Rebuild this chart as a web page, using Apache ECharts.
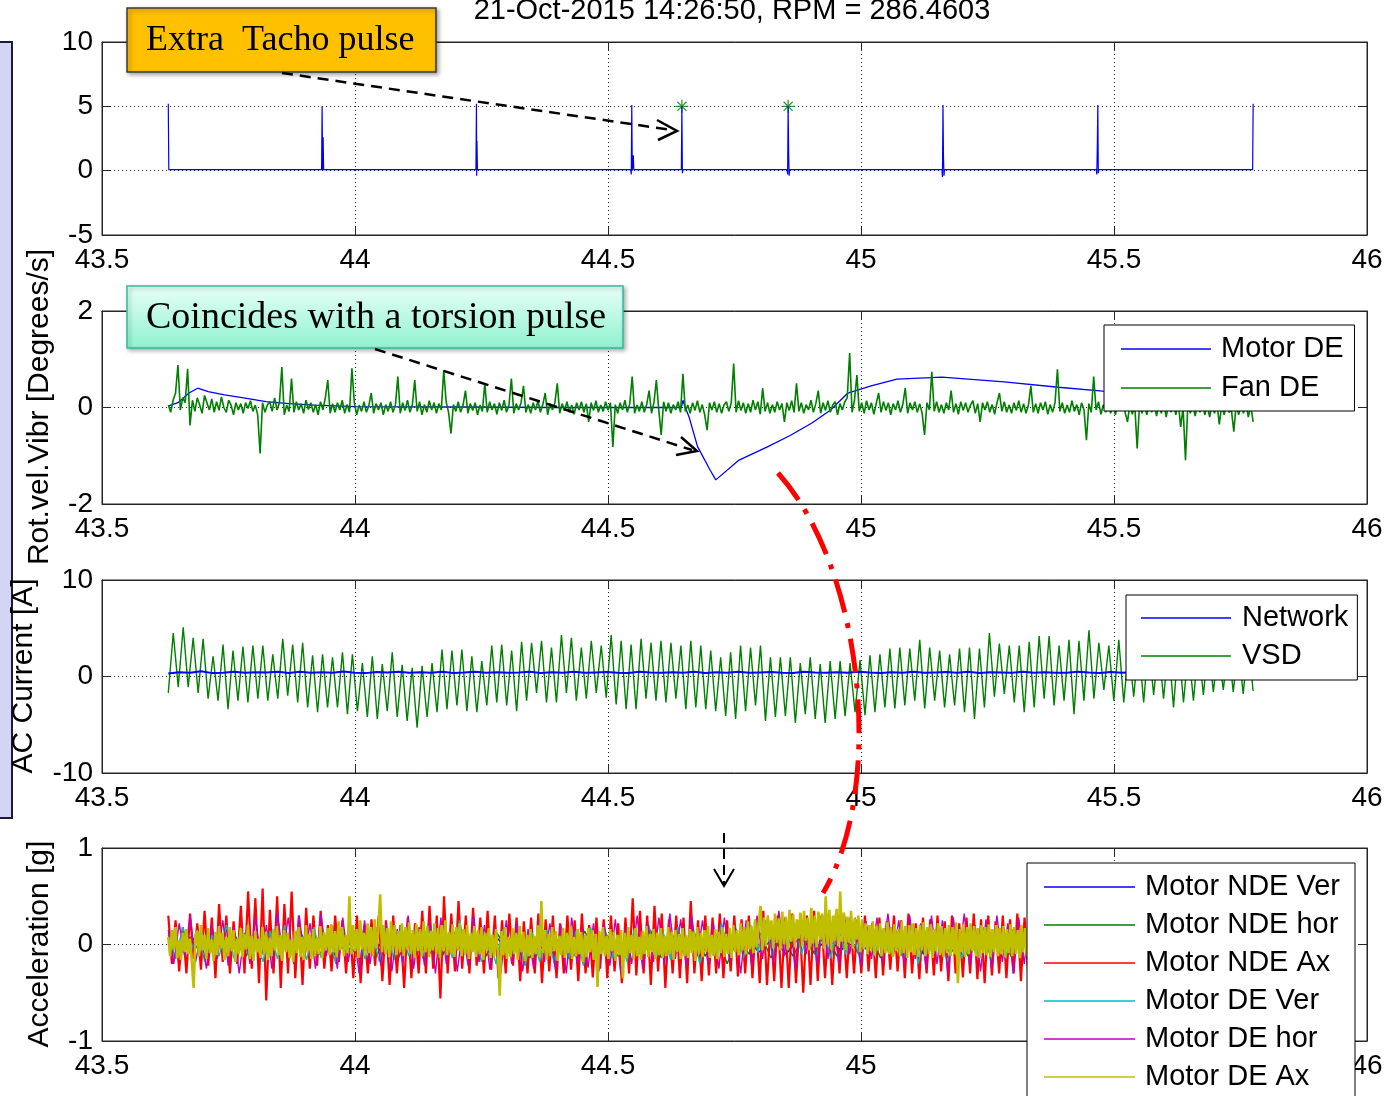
<!DOCTYPE html>
<html><head><meta charset="utf-8">
<script src="https://cdn.jsdelivr.net/npm/echarts@6/dist/echarts.min.js"></script>
<style>html,body{margin:0;padding:0;background:#fff;}#c{width:1392px;height:1096px;}</style>
</head><body><div id="c"></div>
<script>
// ---------- DATA ----------
const xTicks = [43.5, 44, 44.5, 45, 45.5, 46];
const signalStart = 43.631, signalEnd = 45.775;

// Panel 1: tacho signal vertices (time s, value)
const tachoTime = [43.631,43.632,43.934,43.935,43.936,43.937,43.938,44.239,44.240,44.2405,44.241,44.242,44.545,44.546,44.547,44.548,44.550,44.551,44.645,44.646,44.647,44.648,44.854,44.855,44.856,44.857,44.858,44.859,45.160,45.161,45.162,45.163,45.164,45.165,45.465,45.466,45.467,45.468,45.469,45.470,45.774,45.775];
const tachoValue = [5.2,0.08,0.08,5.0,0.0,2.6,0.08,0.08,5.2,-0.4,2.3,0.08,0.08,-0.3,5.1,0.0,1.2,0.08,0.08,5.0,-0.2,0.08,0.08,-0.3,5.0,1.5,-0.4,0.08,0.08,-0.5,5.1,1.1,-0.4,0.08,0.08,-0.3,1.8,5.1,-0.2,0.08,0.08,5.2];
const tachoMarkTime = [44.646, 44.856];
const tachoMarkValue = [5.0, 5.0];

// Panel 2: Motor DE (breakpoints) and Fan DE (uniform samples)
const motorDETime = [43.631,43.65,43.672,43.689,43.71,43.742,43.78,43.824,43.87,43.92,44.0,44.2,44.4,44.55,44.645,44.648,44.652,44.66,44.677,44.702,44.713,44.759,44.814,44.86,44.903,44.94,44.974,45.02,45.071,45.16,45.283,45.39,45.478,45.6,45.775];
const motorDEValue = [0.03,0.1,0.3,0.40,0.33,0.26,0.2,0.12,0.08,0.05,0.02,0.01,0.0,0.0,0.0,0.15,0.02,-0.19,-0.81,-1.3,-1.5,-1.09,-0.82,-0.58,-0.32,-0.05,0.3,0.45,0.59,0.63,0.53,0.42,0.34,0.3,0.28];
const fanDE = [
.05,-.1,.15,.3,.88,-.05,.2,.1,.8,-.37, .15,-.08,.2,.05,-.12,.25,.1,-.05,.18,-.1,
.12,-.06,.22,.0,-.1,.15,.05,-.15,.1,-.05, .08,-.12,.1,-.02,.14,-.08,.05,-.15,-.95,.1,
-.1,.05,.12,-.08,.2,-.05,.1,.84,-.15,.05, -.08,.6,-.1,.12,-.05,.08,-.12,.15,-.04,.1,
-.1,.06,-.15,.12,-.05,.2,.57,-.12,.08,-.1, .1,-.05,.15,-.12,.06,-.1,.81,.1,-.15,.05,
-.08,.12,-.1,.04,.3,-.12,.08,-.05,.1,-.15, .06,-.08,.12,-.1,.05,.64,-.12,.1,-.06,.15,
-.1,.05,.57,-.08,.12,-.15,.06,-.1,.14,-.05, .1,-.12,.08,-.05,.77,.12,-.1,-.54,.06,-.08,
.12,-.1,.05,.35,-.12,.08,-.06,.1,-.15,.05, -.08,.5,-.1,.12,-.05,.08,-.14,.1,-.06,.15,
-.1,.05,.6,-.12,.08,-.05,.1,.45,-.1,.06, -.12,.1,-.05,.14,-.1,.06,.3,-.15,.08,-.05,
.1,.5,-.12,.08,-.06,.12,-.1,.05,-.14,.1, -.05,.12,-.1,.08,-.3,.1,-.06,.14,-.1,.05,
-.08,.12,-.05,.1,-.82,.06,-.12,.1,-.05,.15, -.1,.08,.64,-.12,.05,-.08,.12,-.1,.06,.35,
-.12,.1,.57,-.05,-.57,.12,-.08,.1,-.12,.06, -.05,.12,-.1,.7,-.08,.05,-.12,.1,-.06,.14,
-.1,.06,-.15,-.47,.1,-.05,.12,-.1,.08,-.12, .05,.12,-.08,.1,.91,-.1,.14,-.06,.1,-.12,
.08,-.1,.15,-.05,.12,-.14,.4,-.08,.1,-.12, .06,-.1,.12,-.05,.08,-.3,.1,-.06,.14,-.1,
.5,-.08,.1,-.12,.06,-.05,.15,-.1,.08,.35, -.12,.1,-.06,.14,-.1,.05,.12,-.15,.08,-.05,
.12,.2,1.13,-.1,.15,.67,-.08,.1,-.12,.14, -.05,.1,-.14,.08,.3,-.1,.12,-.06,.1,-.15,
.08,-.05,.14,-.1,.06,.4,-.12,.1,-.05,.12, -.1,.08,-.12,-.57,.1,-.05,.74,-.08,.12,-.1,
.06,-.12,.1,-.05,.35,-.1,.08,-.14,.12,-.06, .1,-.1,.05,.14,-.12,.08,-.3,.1,-.05,.12,
-.1,.06,-.14,.1,.3,-.08,.12,-.1,.05,-.12, .1,-.06,.14,-.1,.08,-.12,.05,.45,-.1,.08,
-.12,.1,-.05,.12,-.14,.06,-.1,.1,.79,-.08, .1,-.12,.05,-.1,.14,-.08,.06,-.15,.1,-.05,
-.68,.08,-.1,.64,-.05,.12,-.14,.06,-.1,.1, -.12,.05,-.15,.1,-.06,.12,-.1,-.3,.08,-.14,
.05,-.85,.1,-.12,.06,-.15,.08,-.1,.12,-.18, .05,-.12,.1,-.2,.06,-.1,.08,-.15,.12,-.4,
.0,-1.09,.1,-.12,.05,-.18,.08,-.1,.12,-.15, .05,-.2,.08,-.12,.1,-.35,.06,-.15,.1,-.1,
-.05,-.5,.08,-.15,.05,-.12,.1,-.2,.05,-.3];

// Panel 3: Network (uniform samples) and VSD (start value, then successive peaks/troughs)
const network = [
.3,.45,.4,.55,.35,.4,.5,.38,.45,.42, .48,.36,.5,.4,.44,.38,.52,.4,.35,.46,
.42,.5,.38,.44,.4,.48,.36,.42,.5,.4, .45,.38,.42,.5,.36,.44,.4,.48,.38,.42,
.46,.4,.36,.5,.42,.38,.45,.4,.48,.36, .44,.4,.5,.38,.42,.46,.4,.36,.48,.42,
.4,.45,.38,.5,.42,.36,.44,.4,.48,.38, .42,.46,.4,.5,.36,.44,.42,.38,.48,.4,
.45,.4,.38,.5,.42,.36,.46,.4,.44,.38, .42,.48,.4,.36,.5,.42,.44,.38,.46,.4];
const vsdStart = -1.7;
const vsdPeaks = [4.5,5.1,4.0,3.9,2.1,3.3,2.7,3.1,3.2,3.2, 2.3,3.9,3.3,3.5,2.2,2.3,2.0,2.5,2.3,1.4,
2.1,1.3,2.5,1.2,0.9,1.1,1.4,2.8,2.7,2.8, 2.1,1.6,3.2,3.3,2.7,3.6,3.5,3.7,3.0,4.3,
4.0,3.0,3.7,3.2,4.3,3.7,3.3,3.9,3.5,3.7, 3.5,3.2,3.7,3.2,2.7,2.0,2.5,3.2,3.0,3.2,
2.0,2.0,2.0,1.4,2.0,1.3,1.6,1.6,1.4,1.7, 2.2,2.3,2.9,3.0,2.9,3.8,3.0,2.7,2.3,2.9,
3.0,2.9,4.5,3.4,3.2,3.2,3.6,4.2,4.2,3.2, 3.8,3.7,4.8,3.5,3.2,3.8,3.0,3.4,3.6,3.1,
3.3,3.5,2.9,3.2,3.4,3.0,3.3,3.1,3.6];
const vsdTroughs = [-1.1,-1.1,-1.7,-2.3,-2.5,-3.4,-2.5,-2.7,-2.3,-2.5, -2.3,-2.0,-2.7,-3.2,-3.7,-3.2,-3.2,-3.9,-3.6,-4.2,
-4.4,-3.6,-4.2,-4.6,-5.3,-4.2,-3.7,-3.4,-3.0,-3.6, -3.7,-3.0,-2.7,-3.0,-3.6,-2.5,-1.7,-2.7,-2.7,-1.7,
-2.5,-2.3,-1.7,-2.2,-2.9,-3.4,-3.4,-2.3,-2.5,-2.7, -2.3,-3.4,-3.2,-3.4,-3.6,-4.1,-4.4,-3.6,-3.0,-4.6,
-4.2,-4.1,-4.8,-3.9,-4.4,-4.8,-4.4,-4.1,-3.7,-4.0, -3.7,-3.2,-3.3,-3.0,-2.5,-3.3,-2.5,-3.2,-3.0,-3.7,
-4.4,-3.2,-2.1,-1.8,-2.7,-3.7,-3.2,-2.3,-3.0,-2.5, -3.9,-2.5,-2.3,-1.4,-2.5,-2.7,-2.1,-2.7,-1.9,-2.3,
-3.2,-2.7,-2.5,-1.9,-1.6,-1.4,-1.6,-1.8,-1.5];

// Panel 4: accelerations (uniform samples, g)
const accNDEVer = [
.06,-.08,.08,-.06,.1,-.08,.06,-.1,.08,-.06, .08,-.1,.06,-.08,.1,-.06,.08,-.08,.06,-.1,
.1,-.06,.08,-.08,.06,-.1,.08,-.06,.1,-.08, .06,-.08,.08,-.1,.06,-.06,.1,-.08,.08,-.06,
.08,-.06,.1,-.08,.06,-.1,.08,-.08,.06,-.06, .1,-.08,.06,-.06,.08,-.1,.06,-.08,.1,-.06,
.08,-.1,.06,-.08,.08,-.06,.1,-.08,.06,-.1, .08,-.06,.1,-.08,.06,-.08,.08,-.1,.06,-.06];
const accNDEhor = [
.1,-.12,.08,-.1,.14,-.08,.12,-.14,.1,-.1, .12,-.1,.15,-.12,.08,-.14,.1,-.08,.12,-.12,
.1,-.14,.12,-.1,.08,-.12,.14,-.1,.1,-.12, .12,-.08,.1,-.14,.12,-.1,.08,-.12,.14,-.1,
.1,-.12,.12,-.1,.15,-.14,.1,-.08,.12,-.12, .1,-.2,.08,-.1,.12,-.14,.1,-.12,.08,-.1,
.14,-.12,.1,-.1,.12,-.14,.08,-.12,.1,-.1, .12,-.1,.1,-.12,.14,-.1,.08,-.14,.12,-.1,
.1,-.12,.12,-.1,.08,-.12,.14,-.1,.1,-.14, .12,-.1,.1,-.12,.08,-.1,.12,-.12,.1,-.1];
const accNDEAx = [
.3,-.2,.25,-.28,.18,-.3,.32,-.15,.22,-.26, .35,-.22,.28,-.35,.42,-.18,.3,-.3,.24,-.2,
.4,-.3,.55,-.25,.48,-.4,.58,-.58,.36,-.3, .5,-.45,.42,-.3,.55,-.35,.3,-.42,.38,-.25,
.3,-.22,.35,-.25,.2,-.28,.3,-.18,.25,-.3, .22,-.35,.3,-.4,.2,-.3,.26,-.22,.3,-.38,
.25,-.42,.3,-.3,.2,-.45,.28,-.35,.22,-.3, .35,-.3,.4,-.25,.3,-.56,.5,-.3,.32,-.28,
.45,-.25,.3,-.3,.38,-.22,.28,-.3,.35,-.26, .3,-.35,.25,-.3,.32,-.22,.28,-.38,.24,-.3,
.28,-.3,.32,-.4,.26,-.28,.3,-.35,.22,-.3, .3,-.26,.25,-.38,.32,-.3,.2,-.34,.28,-.25,
.26,-.35,.3,-.28,.22,-.4,.28,-.3,.48,-.32, .35,-.3,.3,-.42,.4,-.28,.32,-.45,.26,-.3,
.3,-.35,.28,-.4,.45,-.3,.25,-.38,.3,-.32, .28,-.3,.32,-.35,.25,-.28,.3,-.33,.26,-.3,
.3,-.35,.26,-.4,.35,-.42,.22,-.38,.3,-.45, .28,-.45,.32,-.4,.25,-.5,.3,-.42,.35,-.38,
.3,-.35,.26,-.42,.32,-.3,.24,-.35,.28,-.3, .26,-.3,.3,-.28,.22,-.35,.28,-.32,.24,-.26,
.3,-.28,.25,-.35,.32,-.3,.22,-.36,.28,-.3, .26,-.32,.3,-.28,.24,-.38,.3,-.3,.22,-.34,
.28,-.3,.32,-.36,.26,-.4,.3,-.32,.24,-.3, .3,-.35,.26,-.3,.32,-.38,.28,-.3,.25,-.36,
.28,-.3,.25,-.32,.3,-.28,.26,-.35,.3,-.3, .26,-.34,.3,-.28,.24,-.36,.28,-.3,.32,-.26,
.3,-.28,.26,-.34,.22,-.3,.28,-.38,.25,-.3, .32,-.3,.28,-.26,.3,-.35,.24,-.3,.28,-.32,
.25,-.36,.3,-.3,.26,-.28,.32,-.34,.28,-.3, .3,-.3,.26,-.32,.28,-.35,.24,-.3,.3,-.28];
const accDEVer = [
.12,-.15,.18,-.1,.15,-.18,.1,-.12,.2,-.14, .16,-.12,.1,-.18,.14,-.15,.2,-.1,.12,-.16,
.18,-.14,.12,-.2,.15,-.1,.16,-.15,.1,-.18, .14,-.16,.2,-.12,.1,-.15,.18,-.1,.15,-.14,
.25,-.1,.15,-.18,.12,-.2,.16,-.12,.1,-.22, .12,-.18,.15,-.2,.1,-.15,.14,-.22,.18,-.12,
.15,-.14,.1,-.18,.16,-.12,.2,-.15,.12,-.16, .18,-.1,.14,-.2,.15,-.12,.22,-.1,.16,-.14,
.2,-.08,.25,-.12,.18,-.06,.22,-.1,.2,-.12, .16,-.14,.2,-.1,.14,-.16,.18,-.12,.15,-.1,
.12,-.15,.18,-.2,.14,-.12,.16,-.18,.1,-.14, .15,-.12,.18,-.16,.12,-.14,.16,-.1,.14,-.18,
.16,-.14,.12,-.16,.18,-.12,.14,-.15,.16,-.12, .14,-.16,.18,-.12,.15,-.14,.12,-.16,.18,-.1,
.15,-.12,.16,-.14,.12,-.15,.18,-.12,.14,-.1];
const accDEhor = [
.15,-.2,.22,-.12,.3,-.18,.1,-.25,.2,-.15, .25,-.22,.18,-.3,.12,-.2,.28,-.15,.2,-.25,
.33,-.1,.28,-.2,.3,-.15,.22,-.25,.32,-.12, .2,-.25,.28,-.18,.15,-.3,.25,-.2,.18,-.22,
.22,-.28,.16,-.2,.3,-.25,.18,-.22,.24,-.3, .28,-.2,.22,-.28,.15,-.22,.3,-.18,.2,-.26,
.18,-.3,.25,-.2,.22,-.28,.16,-.25,.26,-.18, .22,-.26,.2,-.3,.28,-.2,.15,-.24,.22,-.28,
.2,-.22,.26,-.3,.18,-.2,.3,-.25,.22,-.18, .28,-.2,.32,-.15,.26,-.22,.3,-.12,.25,-.2,
.22,-.25,.28,-.18,.2,-.3,.25,-.22,.3,-.15, .3,-.2,.35,-.12,.28,-.25,.32,-.1,.26,-.2,
.3,-.15,.25,-.2,.32,-.1,.28,-.22,.24,-.15, .28,-.18,.32,-.12,.25,-.2,.3,-.15,.22,-.25,
.3,-.2,.25,-.3,.28,-.15,.32,-.22,.2,-.28, .26,-.25,.3,-.18,.22,-.3,.28,-.2,.25,-.22,
.28,-.2,.24,-.26,.3,-.18,.22,-.25,.26,-.2, .25,-.22,.3,-.2,.22,-.28,.26,-.18,.3,-.24,
.22,-.26,.28,-.2,.24,-.22,.3,-.25,.2,-.2, .26,-.2,.22,-.24,.28,-.18,.25,-.22,.2,-.15];
const accDEAx = [
.08,-.12,.15,-.05,.18,-.14,.04,-.16,.12,-.08, .16,-.1,.06,-.18,-.45,.1,.14,-.12,.2,-.06,
.1,-.15,.17,-.09,.05,-.17,.13,-.11,.19,-.04, .12,-.16,.08,-.12,.18,-.07,.15,-.18,.06,-.1,
.17,-.13,.11,-.05,.2,-.15,.09,-.17,.14,-.08, .06,-.14,.18,-.1,.13,-.16,.07,-.12,.16,-.06,
.19,-.11,.1,-.17,.15,-.08,.12,-.14,.05,-.18, .14,-.09,.18,-.13,.08,-.16,.2,-.07,.11,-.15,
.16,-.12,.07,-.1,.19,-.14,.13,-.06,.17,-.11, .21,-.08,.14,-.13,.24,-.06,.18,-.12,.1,-.09,
.5,-.1,.2,-.07,.16,-.14,.25,-.05,.12,-.11, .22,-.09,.18,-.12,.26,-.04,.15,.52,-.08,.2,
-.1,.17,-.13,.24,-.06,.2,-.11,.14,-.08,.22, -.12,.18,-.05,.23,-.1,.15,-.14,.21,-.07,.16,
-.12,.24,-.08,.19,-.13,.14,-.06,.22,-.1,.17, -.14,.2,-.07,.25,-.11,.13,-.09,.21,-.13,.18,
-.06,.22,-.12,.16,-.1,.2,-.15,.12,-.08,.19, -.13,.15,-.1,.18,-.16,.12,-.07,.17,-.14,.1,
-.12,.16,-.09,-.53,.14,-.11,.18,-.15,.08,-.13, .17,-.1,.12,-.16,.19,-.08,.13,-.17,.1,-.12,
.16,-.14,.09,-.1,.2,-.13,.45,-.09,.15,-.16, .11,-.12,.18,-.07,.14,-.17,.09,-.11,.17,-.14,
.12,-.09,.19,-.15,.08,-.12,.16,-.1,.13,-.18, .1,-.13,.17,-.08,.15,-.16,.11,-.44,.14,-.1,
.18,-.12,.09,-.15,.16,-.07,.13,-.17,.1,-.11, .15,-.35,.12,-.14,.18,-.09,.1,-.15,.17,-.12,
.08,-.16,.14,-.1,.19,-.13,.11,-.08,.16,-.15, .12,-.11,.17,-.14,.09,-.12,.18,-.1,.13,-.16,
.15,-.08,.11,-.15,.17,-.12,.1,-.14,.16,-.09, .13,-.17,.18,-.1,.12,-.13,.15,-.08,.19,-.14,
.1,-.12,.16,-.15,.13,-.09,.18,-.13,.11,-.1, .17,-.14,.2,-.08,.15,-.11,.22,-.06,.18,-.1,
.24,-.05,.19,-.09,.26,-.03,.21,.4,-.06,.28, -.02,.3,.05,.25,-.04,.32,.02,.27,-.06,.34,
.0,.29,-.05,.36,.03,.31,-.03,.26,.06,.33, -.02,.35,.04,.28,-.06,.38,.01,.3,-.03,.34,
.05,.32,-.04,.5,.0,.36,-.05,.3,.04,.37, -.02,.55,.03,.33,-.06,.29,.02,.35,-.04,.27,
.05,.3,-.08,.26,-.05,.22,-.1,.2,-.07,.24, -.11,.19,-.06,.22,-.12,.17,-.09,.23,-.1,.18,
-.13,.21,-.07,.16,-.12,.24,-.09,.19,-.14,.2, -.08,.22,-.11,.17,-.13,.2,-.06,.23,-.12,.18,
-.1,.21,-.14,.16,-.07,.22,-.11,.19,-.13,.17, -.09,.2,-.12,.18,-.1,.23,-.4,.16,-.08,.21,
-.13,.18,-.1,.22,-.07,.19,-.12,.17,-.14,.2, -.09,.18,-.11,.21,-.13,.16,-.08,.2,-.12,.17,
-.1,.19,-.13,.16,-.09,.21,-.12,.18,-.1,.15, -.14,.2,-.08,.17,-.12,.22,-.1,.16,-.13,.19,
-.09,.18,-.12,.2,-.1,.15,-.14,.21,-.08,.17, -.12,.19,-.1,.16,-.13,.2,-.09,.18,-.11,.22,
-.13,.17,-.08,.2,-.12,.16,-.1,.19,-.14,.18, -.1,.21,-.12,.17,-.09,.19,-.13,.16,-.11,.2,
-.12,.18,-.1,.22,-.14,.17,-.08,.2,-.12,.16, -.09,.19,-.13,.18,-.1,.21,-.12,.15,-.11,.19,
-.14,.2,-.09,.17,-.12,.18,-.1,.22,-.13,.16, -.08,.19,-.12,.2,-.11,.17,-.14,.18,-.09,.21,
-.12,.16,-.1,.19,-.13,.2,-.08,.17,-.12,.18, -.1,.22,-.13,.16,-.09,.19,-.12,.2,-.11,.17,
-.13,.18,-.1,.21,-.12,.16,-.09,.19,-.14,.2, -.1,.17,-.12,.19,-.08,.2,-.13,.16,-.11,.15];

// Legend entries of panel 4
const accNames = ['Motor NDE Ver','Motor NDE hor','Motor NDE Ax','Motor DE Ver','Motor DE hor','Motor DE Ax'];
const accColors = ['#0000ff','#008000','#ff0000','#00bfbf','#bf00bf','#bfbf00'];

// ---------- helpers ----------
function uniform(vals){ const n = vals.length; return vals.map((v,i)=>[signalStart + (signalEnd-signalStart)*i/(n-1), v]); }
function pairs(ts, vs){ return ts.map((t,i)=>[t, vs[i]]); }
const vsdSeq = [vsdStart];
for (let k = 0; k < vsdPeaks.length; k++){ vsdSeq.push(vsdPeaks[k]); if (k < vsdTroughs.length) vsdSeq.push(vsdTroughs[k]); }

const FONT = "'Liberation Sans', Arial, Helvetica, sans-serif";
const SERIF = "'Liberation Serif', 'Times New Roman', serif";
const INK = '#262626';
const gridTops = [42, 311, 580, 848];
const yRanges = [[-5,10,5],[-2,2,2],[-10,10,10],[-1,1,1]];

const grids = gridTops.map(t => ({left:102, right:25, top:t, height:193, show:true, borderColor:INK, borderWidth:1, backgroundColor:'#fff'}));
const xAxes = [], yAxes = [];
for (let i=0;i<4;i++){
  xAxes.push({type:'value', gridIndex:i, min:xTicks[0], max:xTicks[xTicks.length-1], interval:0.5, position:'bottom',
    axisLine:{show:true, onZero:false, lineStyle:{color:INK,width:1}},
    axisTick:{show:true, inside:true, length:8, lineStyle:{color:INK}},
    axisLabel:{show:true, fontSize:28, color:'#000', fontFamily:FONT, margin:11, showMinLabel:true, showMaxLabel:true},
    splitLine:{show:true, showMinLine:false, showMaxLine:false, lineStyle:{type:[1,3], color:INK, width:1}}});
}
for (let i=0;i<4;i++){
  xAxes.push({type:'value', gridIndex:i, min:xTicks[0], max:xTicks[xTicks.length-1], interval:0.5, position:'top',
    axisLine:{show:true, onZero:false, lineStyle:{color:INK,width:1}},
    axisTick:{show:true, inside:true, length:8, lineStyle:{color:INK}},
    axisLabel:{show:false}, splitLine:{show:false}});
}
for (let i=0;i<4;i++){
  const r = yRanges[i];
  yAxes.push({type:'value', gridIndex:i, min:r[0], max:r[1], interval:r[2], position:'left',
    axisLine:{show:true, onZero:false, lineStyle:{color:INK,width:1}},
    axisTick:{show:true, inside:true, length:8, lineStyle:{color:INK}},
    axisLabel:{show:true, fontSize:28, color:'#000', fontFamily:FONT, margin:9, showMinLabel:true, showMaxLabel:true},
    splitLine:{show:true, showMinLine:false, showMaxLine:false, lineStyle:{type:[1,3], color:INK, width:1}}});
}
for (let i=0;i<4;i++){
  const r = yRanges[i];
  yAxes.push({type:'value', gridIndex:i, min:r[0], max:r[1], interval:r[2], position:'right',
    axisLine:{show:true, onZero:false, lineStyle:{color:INK,width:1}},
    axisTick:{show:true, inside:true, length:8, lineStyle:{color:INK}},
    axisLabel:{show:false}, splitLine:{show:false}});
}

function lineSeries(name, grid, data, color, w){
  return {name:name, type:'line', xAxisIndex:grid, yAxisIndex:grid, data:data, showSymbol:false, symbol:'none',
    animation:false, silent:true, clip:true, color:color, itemStyle:{color:color},
    lineStyle:{color:color, width:w||1}, emphasis:{disabled:true}};
}

const accData = [accNDEVer, accNDEhor, accNDEAx, accDEVer, accDEhor, accDEAx];
const accWidths = [1.5, 1.5, 2.2, 1.4, 1.4, 2.6];

const series = [
  lineSeries('Tacho', 0, pairs(tachoTime, tachoValue), '#0000ff', 1.2),
  {type:'scatter', xAxisIndex:0, yAxisIndex:0, data:pairs(tachoMarkTime, tachoMarkValue), animation:false, silent:true,
   symbol:'path://M5,0L5,10M0,5L10,5M1.5,1.5L8.5,8.5M1.5,8.5L8.5,1.5', symbolSize:13,
   itemStyle:{color:'rgba(0,0,0,0)', borderColor:'#008000', borderWidth:1.3}},
  lineSeries('Motor DE', 1, pairs(motorDETime, motorDEValue), '#0000ff', 1.3),
  lineSeries('Fan DE', 1, uniform(fanDE), '#008000', 1.6),
  lineSeries('VSD', 2, uniform(vsdSeq), '#008000', 1.4),
  lineSeries('Network', 2, uniform(network), '#0000ff', 2)
];
accNames.forEach((n,i)=>series.push(lineSeries(n, 3, uniform(accData[i]), accColors[i], accWidths[i])));

function legendBox(names, left, top, pad, gap, textPadLeft){
  return {show:true, orient:'vertical', left:left, top:top, data:names, selectedMode:false,
    icon:'rect', itemWidth:90, itemHeight:1.5, itemGap:gap, padding:pad,
    backgroundColor:'#fff', borderColor:'#000', borderWidth:1, borderRadius:0,
    textStyle:{fontSize:29, fontFamily:FONT, color:'#000', lineHeight:30, padding:[0,0,0,textPadLeft]}};
}
const legends = [
  legendBox(['Motor DE','Fan DE'], 1104, 325, [9,11,8,17], 9, 5),
  legendBox(['Network','VSD'], 1126, 595, [8,9,9,15], 8, 6)
];

function txt(x,y,text,font,extra){ return Object.assign({type:'text', x:x, y:y, z:100, silent:true,
  style:{text:text, font:font, fill:'#000', align:'left', verticalAlign:'middle'}}, extra||{}); }

const graphics = [
  {type:'rect', z:90, silent:true, shape:{x:-3,y:42,width:15,height:776}, style:{fill:'#d4d4f4', stroke:'#1c1c38', lineWidth:2}},
  {type:'text', x:732, y:11, z:100, silent:true, style:{text:'21-Oct-2015 14:26:50, RPM = 286.4603', font:'29px '+FONT, fill:'#000', align:'center', verticalAlign:'middle'}},
  {type:'text', x:40, y:407, rotation:Math.PI/2, z:100, silent:true, style:{text:'Rot.vel.Vibr [Degrees/s]', font:'30px '+FONT, fill:'#000', align:'center', verticalAlign:'middle'}},
  {type:'text', x:24, y:676, rotation:Math.PI/2, z:100, silent:true, style:{text:'AC Current [A]', font:'30px '+FONT, fill:'#000', align:'center', verticalAlign:'middle'}},
  {type:'text', x:40, y:944, rotation:Math.PI/2, z:100, silent:true, style:{text:'Acceleration [g]', font:'30px '+FONT, fill:'#000', align:'center', verticalAlign:'middle'}},
  // annotation: Extra Tacho pulse
  {type:'rect', z:100, silent:true, shape:{x:127,y:8,width:309,height:64},
   style:{fill:'#ffc000', stroke:'#3a3a3a', lineWidth:1.5, shadowBlur:4, shadowColor:'rgba(0,0,0,0.35)', shadowOffsetX:2, shadowOffsetY:2}},
  txt(146, 41, 'Extra  Tacho pulse', '36px '+SERIF),
  {type:'line', z:100, silent:true, shape:{x1:282,y1:73,x2:672,y2:130}, style:{stroke:'#000', lineWidth:2.5, lineDash:[11,7]}},
  {type:'polyline', z:100, silent:true, shape:{points:[[657,120],[677,131],[658,140]]}, style:{stroke:'#000', lineWidth:2.5, fill:null}},
  // annotation: Coincides with a torsion pulse
  {type:'rect', z:100, silent:true, shape:{x:127,y:286,width:496,height:62},
   style:{fill:new echarts.graphic.LinearGradient(0,0,0,1,[{offset:0,color:'#e8fff8'},{offset:1,color:'#8ff2cf'}]),
          stroke:'#2bbf9a', lineWidth:1.5, shadowBlur:4, shadowColor:'rgba(0,0,0,0.3)', shadowOffsetX:2, shadowOffsetY:2}},
  txt(146, 318, 'Coincides with a torsion pulse', '38px '+SERIF),
  {type:'line', z:100, silent:true, shape:{x1:375,y1:349,x2:692,y2:450}, style:{stroke:'#000', lineWidth:2.5, lineDash:[11,7]}},
  {type:'polyline', z:100, silent:true, shape:{points:[[681,437],[697,451],[676,455]]}, style:{stroke:'#000', lineWidth:2.5, fill:null}},
  // small vertical arrow in panel 4
  {type:'line', z:100, silent:true, shape:{x1:724,y1:833,x2:724,y2:884}, style:{stroke:'#000', lineWidth:2, lineDash:[10,6]}},
  {type:'polyline', z:100, silent:true, shape:{points:[[714,869],[724,886],[734,869]]}, style:{stroke:'#000', lineWidth:2, fill:null}},
  // red dash-dot connector
  {type:'bezierCurve', z:100, silent:true, shape:{x1:778,y1:473,cpx1:865,cpy1:570,cpx2:885,cpy2:790,x2:823,y2:893},
   style:{stroke:'#ff0000', lineWidth:5, lineDash:[34,11,5,11], fill:null}},
  // legend box of panel 4 (runs past the bottom edge as in the reference)
  {type:'rect', z:95, silent:true, shape:{x:1027,y:863,width:328,height:260}, style:{fill:'#fff', stroke:'#000', lineWidth:1}}
];
accNames.forEach((n,i)=>{
  const y = 887 + 38*i;
  graphics.push({type:'line', z:96, silent:true, shape:{x1:1044,y1:y,x2:1135,y2:y}, style:{stroke:accColors[i], lineWidth:1.5}});
  graphics.push(txt(1145, y, n, '29px '+FONT, {z:96}));
});

const chart = echarts.init(document.getElementById('c'), null, {renderer:'canvas'});
chart.setOption({
  animation:false, backgroundColor:'#fff',
  grid:grids, xAxis:xAxes, yAxis:yAxes, series:series, legend:legends, graphic:graphics, tooltip:{show:false}
});
</script></body></html>
